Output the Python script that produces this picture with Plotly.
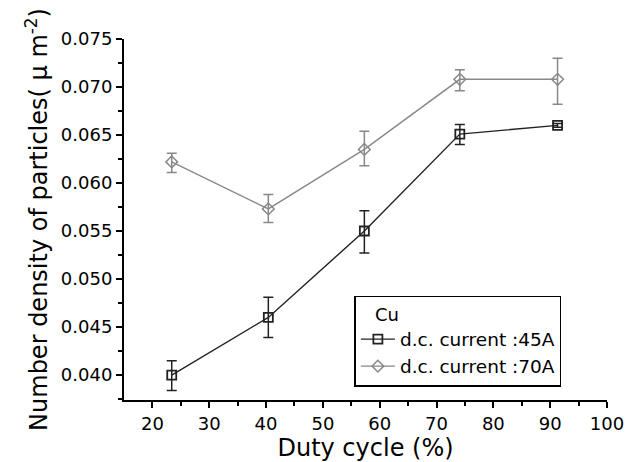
import plotly.graph_objects as go

duty = [23.4, 40.4, 57.3, 74.1, 91.3]
d45 = [0.0400, 0.0460, 0.0550, 0.0651, 0.0660]
e45_up = [0.0015, 0.0021, 0.0021, 0.0010, 0.0002]
e45_dn = [0.0016, 0.0021, 0.0023, 0.0011, 0.0002]
d70 = [0.0622, 0.0573, 0.0635, 0.0708, 0.0708]
e70_up = [0.0009, 0.0015, 0.0019, 0.0010, 0.0022]
e70_dn = [0.0011, 0.0014, 0.0017, 0.0012, 0.0026]

FONT = "DejaVu Sans, Arial, sans-serif"

fig = go.Figure()
fig.add_trace(go.Scatter(
    x=duty, y=d45, mode="lines+markers", name="d.c. current :45A",
    line=dict(color="#222222", width=1.4),
    marker=dict(symbol="square-open", size=9, color="#222222", line=dict(width=1.8)),
    error_y=dict(type="data", symmetric=False, array=e45_up, arrayminus=e45_dn,
                 color="#222222", thickness=1.5, width=5),
))
fig.add_trace(go.Scatter(
    x=duty, y=d70, mode="lines+markers", name="d.c. current :70A",
    line=dict(color="#888888", width=1.4),
    marker=dict(symbol="diamond-open", size=9, color="#888888", line=dict(width=1.5)),
    error_y=dict(type="data", symmetric=False, array=e70_up, arrayminus=e70_dn,
                 color="#888888", thickness=1.5, width=5),
))

axis_font = dict(family=FONT, size=18, color="black")
fig.update_layout(
    width=636, height=462,
    margin=dict(l=124, r=22, t=39, b=60),
    paper_bgcolor="white", plot_bgcolor="white",
    font=dict(family=FONT, color="black"),
    showlegend=True,
    legend=dict(
        title=dict(text="   Cu", font=dict(family=FONT, size=18, color="black")),
        x=0.477, y=0.289, xanchor="left", yanchor="top",
        bordercolor="black", borderwidth=1.5, bgcolor="white",
        font=dict(family=FONT, size=18.5, color="black"),
        tracegroupgap=0, itemwidth=34,
    ),
    xaxis=dict(
        range=[15, 100], tickvals=[20, 30, 40, 50, 60, 70, 80, 90, 100],
        ticks="outside", ticklen=6, tickwidth=2, tickcolor="black",
        minor=dict(tickvals=[25, 35, 45, 55, 65, 75, 85, 95], ticks="outside", ticklen=4, tickwidth=2, tickcolor="black"),
        showline=True, linecolor="black", linewidth=2, showgrid=False, zeroline=False,
        tickfont=axis_font,
        title=dict(text="Duty cycle (%)", font=dict(family=FONT, size=24, color="black"), standoff=0),
    ),
    yaxis=dict(
        range=[0.0374, 0.075],
        tickvals=[0.040, 0.045, 0.050, 0.055, 0.060, 0.065, 0.070, 0.075],
        ticktext=["0.040", "0.045", "0.050", "0.055", "0.060", "0.065", "0.070", "0.075"],
        ticks="outside", ticklen=6, tickwidth=2, tickcolor="black",
        minor=dict(tickvals=[0.0375, 0.0425, 0.0475, 0.0525, 0.0575, 0.0625, 0.0675, 0.0725],
                   ticks="outside", ticklen=4, tickwidth=2, tickcolor="black"),
        showline=True, linecolor="black", linewidth=2, showgrid=False, zeroline=False,
        tickfont=axis_font,
        title=dict(text="Number density of particles( \u03bc m<sup>-2</sup>)", font=dict(family=FONT, size=24, color="black"), standoff=6),
    ),
)

fig.write_html("out.html")
